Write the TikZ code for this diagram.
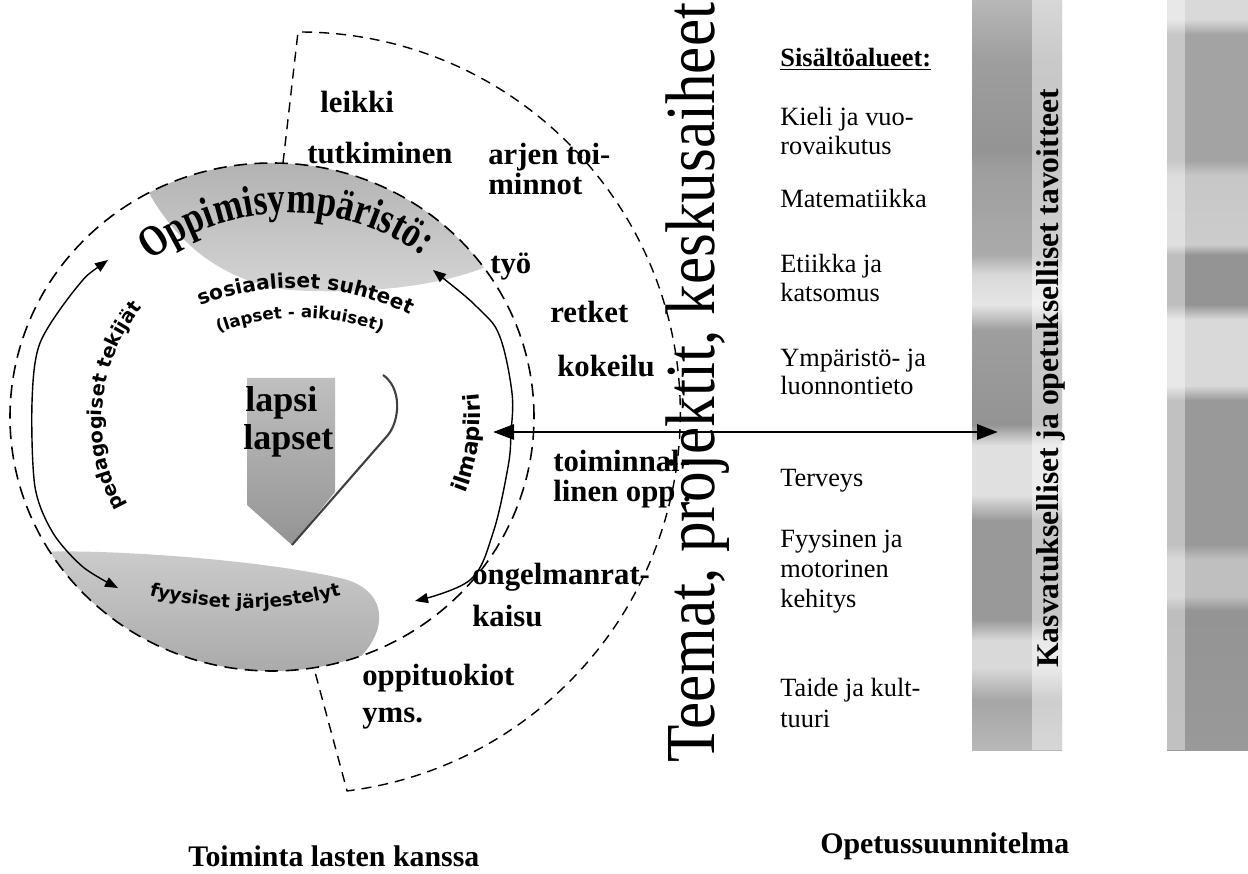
\documentclass[tikz,border=0pt]{standalone}
\usepackage{graphicx}
\usepackage{fontspec}
\setmainfont{Liberation Serif}
\newfontfamily\wsans{DejaVu Sans}
\newfontfamily\oppfont{Liberation Serif}[FakeStretch=0.8]
\usetikzlibrary{decorations.text,arrows.meta}

\pgfdeclareverticalshading{bandL}{100bp}{color(0bp)=(black!28); color(25bp)=(black!28); color(28.3bp)=(black!35); color(30.5bp)=(black!15); color(32.3bp)=(black!15); color(33.7bp)=(black!40); color(40.3bp)=(black!40); color(42bp)=(black!12); color(45.3bp)=(black!12); color(46.7bp)=(black!42); color(53bp)=(black!38); color(54.7bp)=(black!10); color(56.7bp)=(black!15); color(58bp)=(black!33); color(63.7bp)=(black!38); color(65bp)=(black!42); color(71bp)=(black!38); color(75bp)=(black!28); color(100bp)=(black!28)}
\pgfdeclareverticalshading{bandR}{100bp}{color(0bp)=(black!40); color(25bp)=(black!40); color(34.3bp)=(black!42); color(35.3bp)=(black!25); color(37.7bp)=(black!25); color(38.7bp)=(black!40); color(48.3bp)=(black!40); color(49.3bp)=(black!15); color(53.7bp)=(black!15); color(54.7bp)=(black!42); color(58bp)=(black!42); color(58.7bp)=(black!20); color(63.3bp)=(black!22); color(64.3bp)=(black!36); color(72.7bp)=(black!36); color(73.7bp)=(black!15); color(75bp)=(black!15); color(100bp)=(black!15)}

\begin{document}
\begin{tikzpicture}[x=0.02cm, y=0.02cm,
  dsh/.style={dash pattern=on 0.26cm off 0.15cm, line width=0.9pt},
  dsh2/.style={dash pattern=on 0.2cm off 0.14cm, line width=0.8pt},
  thinarrow/.style={line width=0.8pt, >={Triangle[length=0.26cm,width=0.2cm]}, <->},
  bigarrow/.style={line width=1.7pt, >={Triangle[length=0.42cm,width=0.3cm]}, <->},
  midtext/.style={anchor=base west, inner sep=0pt, font=\fontsize{17.5}{20}\selectfont\bfseries},
  coltext/.style={anchor=base west, inner sep=0pt, font=\fontsize{15}{18}\selectfont},
  captext/.style={anchor=base west, inner sep=0pt, font=\fontsize{17}{20}\selectfont\bfseries}
  ]
\useasboundingbox (0,0) rectangle (1248,-874);
\fill[white] (0,0) rectangle (1248,-874);

% grey bands on the right
\shade[shading=bandL] (972,0) rectangle (1062,-750);
\fill[white,opacity=0.45] (1032,0) rectangle (1062,-750);
\shade[shading=bandR] (1167,0) rectangle (1248,-750);
\fill[white,opacity=0.4] (1167,0) rectangle (1185,-750);

% circle geometry
\coordinate (cc) at (272,-417);

% grey crescent at the top of the circle
\shade[top color=black!33, bottom color=black!4]
  (cc) ++(118:262 and 254) arc[start angle=118, end angle=36, x radius=262, y radius=254]
  .. controls (440,-285) and (370,-295) .. (290,-290)
  .. controls (220,-282) and (175,-240) .. cycle;

% grey lens at the bottom of the circle
\shade[top color=black!6, bottom color=black!36]
  (cc) ++(212:262 and 254) arc[start angle=212, end angle=290, x radius=262, y radius=254]
  .. controls (390,-625) and (385,-588) .. (340,-578)
  .. controls (260,-560) and (120,-550) .. cycle;

% child shape
\shade[top color=black!25, bottom color=black!42]
  (247,-378) -- (335,-378) -- (335,-492) -- (292,-545) -- (247,-505) -- cycle;
\draw[line width=1.2pt, black!75] (383,-375) .. controls (402,-388) and (400,-420) .. (388,-435) -- (292,-545);

% dashed circle
\draw[dsh] (cc) ellipse [x radius=262, y radius=254];

% dashed outer sector
\coordinate (wtopin) at (283,-163);
\coordinate (wtop) at (298,-32);
\coordinate (wbotin) at (315,-672);
\draw[dsh2] (wtopin) -- (wtop) arc[start angle=90.2, end angle=-82.8, radius=381] -- (wbotin);

% curved arrows
\coordinate (ra1) at (433,-270);
\coordinate (ra2) at (415,-601);
\draw[thinarrow] plot[smooth, tension=0.6] coordinates {(ra1) (480,-310) (500,-337) (512,-393) (511,-433) (508,-467) (493,-533) (470,-580) (ra2)};
\coordinate (la1) at (108,-260);
\coordinate (la2) at (118,-588);
\draw[thinarrow] plot[smooth, tension=0.5] coordinates {(la1) (77,-287) (40,-343) (32,-403) (35,-487) (53,-533) (83,-567) (la2)};

% horizontal arrow
\coordinate (hl) at (493,-432);
\coordinate (hr) at (998,-432);
\draw[bigarrow] (hl) -- (hr);

% curved texts in the circle
\coordinate (oc) at (290,-440);
\path[decorate, decoration={text along path, text align=center,
  text={|\oppfont\bfseries\fontsize{25}{25}\selectfont|Oppimisympäristö:}}]
  (oc) ++(150:227) arc[start angle=150, end angle=32, radius=227];
\coordinate (sc) at (295,-545);
\path[decorate, decoration={text along path, text align=center,
  text={|\wsans\bfseries\fontsize{11.5}{12}\selectfont|sosiaaliset suhteet}}]
  (sc) ++(135:257) arc[start angle=135, end angle=40, radius=257];
\coordinate (lc) at (300,-550);
\path[decorate, decoration={text along path, text align=center,
  text={|\wsans\bfseries\fontsize{9.5}{10}\selectfont|(lapset - aikuiset)}}]
  (lc) ++(135:232) arc[start angle=135, end angle=45, radius=232];
\coordinate (pc) at (280,-420);
\path[decorate, decoration={text along path, text align=center,
  text={|\wsans\bfseries\fontsize{11}{12}\selectfont|pedagogiset tekijät}}]
  (pc) ++(235:178) arc[start angle=235, end angle=115, radius=178];
\coordinate (fc) at (245,-246);
\path[decorate, decoration={text along path, text align=center,
  text={|\wsans\bfseries\fontsize{10.5}{11}\selectfont|fyysiset järjestelyt}}]
  (fc) ++(240:362) arc[start angle=240, end angle=300, radius=362];
\path[decorate, decoration={text along path, text align=center,
  text={|\wsans\bfseries\fontsize{12.5}{13}\selectfont|ilmapiiri}}]
  (cc) ++(-40:208) arc[start angle=-40, end angle=25, radius=208];

% child texts
\node[anchor=base west, inner sep=0pt, font=\fontsize{20.5}{22}\selectfont\bfseries] (lapsi) at (245,-412) {lapsi};
\node[anchor=base west, inner sep=0pt, font=\fontsize{20.5}{22}\selectfont\bfseries] (lapset) at (243,-450) {lapset};

% activity texts
\node[midtext] (t1) at (320,-113) {leikki};
\node[midtext] (t2) at (307,-164) {tutkiminen};
\node[midtext] (t3) at (488,-165) {arjen toi-};
\node[midtext] (t4) at (488,-195) {minnot};
\node[midtext] (t5) at (490,-274) {työ};
\node[midtext] (t6) at (550,-323) {retket};
\node[midtext] (t7) at (557,-377) {kokeilu};
\node[midtext] (t8) at (553,-472) {toiminnal-};
\node[midtext] (t9) at (553,-502) {linen opp .};
\node[midtext] (t10) at (472,-585) {ongelmanrat-};
\node[midtext] (t11) at (472,-627) {kaisu};
\node[midtext] (t12) at (362,-685) {oppituokiot};
\node[midtext] (t13) at (362,-723) {yms.};

% vertical titles
\node[rotate=90, anchor=base west, inner sep=0pt] (teemat) at (714,-763)
  {\scalebox{0.87}[1]{\fontsize{40}{40}\selectfont Teemat, projektit, keskusaiheet}};
\node[rotate=90, anchor=base west, inner sep=0pt] (kasv) at (1058,-668)
  {\fontsize{18}{18}\selectfont\bfseries Kasvatukselliset ja opetukselliset tavoitteet};

% content areas
\node[coltext, font=\fontsize{15}{18}\selectfont\bfseries] (c0) at (780,-67) {\underline{Sisältöalueet:}};
\node[coltext] (c1) at (780,-126) {Kieli ja vuo-};
\node[coltext] (c2) at (780,-155) {rovaikutus};
\node[coltext] (c3) at (780,-208) {Matematiikka};
\node[coltext] (c4) at (780,-273) {Etiikka ja};
\node[coltext] (c5) at (780,-302) {katsomus};
\node[coltext] (c6) at (780,-367) {Ympäristö- ja};
\node[coltext] (c7) at (780,-395) {luonnontieto};
\node[coltext] (c8) at (780,-487) {Terveys};
\node[coltext] (c9) at (780,-548) {Fyysinen ja};
\node[coltext] (c10) at (780,-578) {motorinen};
\node[coltext] (c11) at (780,-608) {kehitys};
\node[coltext] (c12) at (780,-697) {Taide ja kult-};
\node[coltext] (c13) at (780,-727) {tuuri};

% captions
\node[captext] (cap1) at (188,-866) {Toiminta lasten kanssa};
\node[captext] (cap2) at (820,-853) {Opetussuunnitelma};
\end{tikzpicture}
\end{document}
